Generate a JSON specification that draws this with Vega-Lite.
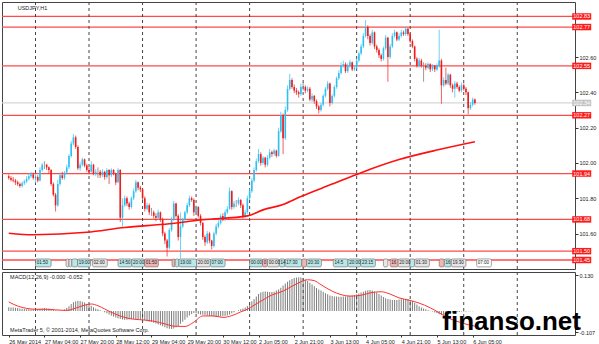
{
"$schema": "https://vega.github.io/schema/vega-lite/v6.json",
"background": "white",
"padding": {"left": 0, "top": 1, "right": 0, "bottom": 0},
"spacing": 1,
"config": {
  "view": {"stroke": "#444", "strokeWidth": 1},
  "axis": {"labelFont": "Liberation Sans", "labelFontSize": 5.5, "labelColor": "#222", "tickColor": "#333", "domain": false, "grid": false},
  "text": {"font": "Liberation Sans"}
},
"datasets": {
  "candles": [
{"i":0,"o":101.925,"h":101.935,"l":101.905,"c":101.915,"m":0.013},
{"i":1,"o":101.915,"h":101.925,"l":101.895,"c":101.905,"m":0.012},
{"i":2,"o":101.905,"h":101.92,"l":101.89,"c":101.9,"m":0.012},
{"i":3,"o":101.9,"h":101.91,"l":101.875,"c":101.89,"m":0.011},
{"i":4,"o":101.89,"h":101.9,"l":101.87,"c":101.88,"m":0.010},
{"i":5,"o":101.88,"h":101.89,"l":101.86,"c":101.87,"m":0.009},
{"i":6,"o":101.87,"h":101.895,"l":101.86,"c":101.885,"m":0.008},
{"i":7,"o":101.885,"h":101.905,"l":101.875,"c":101.895,"m":0.007},
{"i":8,"o":101.895,"h":101.925,"l":101.885,"c":101.91,"m":0.006},
{"i":9,"o":101.91,"h":101.94,"l":101.9,"c":101.925,"m":0.006},
{"i":10,"o":101.925,"h":101.95,"l":101.915,"c":101.935,"m":0.005},
{"i":11,"o":101.935,"h":101.945,"l":101.905,"c":101.915,"m":0.005},
{"i":12,"o":101.915,"h":101.935,"l":101.885,"c":101.92,"m":0.006},
{"i":13,"o":101.92,"h":101.93,"l":101.89,"c":101.9,"m":0.007},
{"i":14,"o":101.9,"h":101.975,"l":101.895,"c":101.96,"m":0.008},
{"i":15,"o":101.96,"h":102.0,"l":101.95,"c":101.99,"m":0.009},
{"i":16,"o":101.99,"h":102.01,"l":101.965,"c":101.99,"m":0.010},
{"i":17,"o":101.99,"h":101.995,"l":101.96,"c":101.975,"m":0.009},
{"i":18,"o":101.975,"h":101.98,"l":101.94,"c":101.96,"m":0.008},
{"i":19,"o":101.96,"h":101.965,"l":101.87,"c":101.88,"m":0.006},
{"i":20,"o":101.88,"h":101.89,"l":101.81,"c":101.82,"m":0.004},
{"i":21,"o":101.82,"h":101.83,"l":101.725,"c":101.76,"m":0.002},
{"i":22,"o":101.76,"h":101.905,"l":101.75,"c":101.88,"m":0.001},
{"i":23,"o":101.88,"h":101.945,"l":101.87,"c":101.93,"m":0.0},
{"i":24,"o":101.93,"h":101.95,"l":101.905,"c":101.915,"m":0.002},
{"i":25,"o":101.915,"h":101.955,"l":101.905,"c":101.945,"m":0.005},
{"i":26,"o":101.945,"h":101.99,"l":101.935,"c":101.975,"m":0.010},
{"i":27,"o":101.975,"h":102.05,"l":101.965,"c":102.04,"m":0.016},
{"i":28,"o":102.04,"h":102.125,"l":102.03,"c":102.11,"m":0.024},
{"i":29,"o":102.11,"h":102.165,"l":102.1,"c":102.145,"m":0.030},
{"i":30,"o":102.145,"h":102.155,"l":102.08,"c":102.09,"m":0.033},
{"i":31,"o":102.09,"h":102.1,"l":101.96,"c":101.97,"m":0.035},
{"i":32,"o":101.97,"h":102.005,"l":101.955,"c":101.99,"m":0.034},
{"i":33,"o":101.99,"h":102.03,"l":101.98,"c":102.02,"m":0.032},
{"i":34,"o":102.02,"h":102.025,"l":101.975,"c":101.985,"m":0.029},
{"i":35,"o":101.985,"h":101.995,"l":101.95,"c":101.96,"m":0.025},
{"i":36,"o":101.96,"h":101.975,"l":101.935,"c":101.95,"m":0.021},
{"i":37,"o":101.95,"h":102.01,"l":101.945,"c":101.99,"m":0.017},
{"i":38,"o":101.99,"h":101.995,"l":101.93,"c":101.94,"m":0.013},
{"i":39,"o":101.94,"h":101.965,"l":101.925,"c":101.95,"m":0.009},
{"i":40,"o":101.95,"h":101.975,"l":101.915,"c":101.95,"m":0.006},
{"i":41,"o":101.95,"h":101.96,"l":101.915,"c":101.93,"m":0.003},
{"i":42,"o":101.93,"h":101.965,"l":101.92,"c":101.95,"m":0.0},
{"i":43,"o":101.95,"h":101.955,"l":101.905,"c":101.92,"m":-0.004},
{"i":44,"o":101.92,"h":101.97,"l":101.91,"c":101.96,"m":-0.008},
{"i":45,"o":101.96,"h":101.965,"l":101.88,"c":101.93,"m":-0.012},
{"i":46,"o":101.93,"h":101.97,"l":101.92,"c":101.96,"m":-0.016},
{"i":47,"o":101.96,"h":101.965,"l":101.93,"c":101.94,"m":-0.019},
{"i":48,"o":101.94,"h":101.945,"l":101.875,"c":101.89,"m":-0.022},
{"i":49,"o":101.89,"h":101.97,"l":101.885,"c":101.96,"m":-0.025},
{"i":50,"o":101.96,"h":101.965,"l":101.665,"c":101.69,"m":-0.027},
{"i":51,"o":101.69,"h":101.8,"l":101.64,"c":101.76,"m":-0.029},
{"i":52,"o":101.76,"h":101.815,"l":101.75,"c":101.8,"m":-0.030},
{"i":53,"o":101.8,"h":101.81,"l":101.755,"c":101.77,"m":-0.030},
{"i":54,"o":101.77,"h":101.78,"l":101.735,"c":101.75,"m":-0.029},
{"i":55,"o":101.75,"h":101.81,"l":101.74,"c":101.8,"m":-0.028},
{"i":56,"o":101.8,"h":101.855,"l":101.79,"c":101.84,"m":-0.027},
{"i":57,"o":101.84,"h":101.905,"l":101.83,"c":101.89,"m":-0.027},
{"i":58,"o":101.89,"h":101.895,"l":101.845,"c":101.86,"m":-0.028},
{"i":59,"o":101.86,"h":101.87,"l":101.835,"c":101.85,"m":-0.029},
{"i":60,"o":101.85,"h":101.855,"l":101.79,"c":101.8,"m":-0.030},
{"i":61,"o":101.8,"h":101.81,"l":101.725,"c":101.74,"m":-0.032},
{"i":62,"o":101.74,"h":101.775,"l":101.73,"c":101.76,"m":-0.035},
{"i":63,"o":101.76,"h":101.77,"l":101.705,"c":101.72,"m":-0.037},
{"i":64,"o":101.72,"h":101.745,"l":101.7,"c":101.72,"m":-0.038},
{"i":65,"o":101.72,"h":101.73,"l":101.685,"c":101.7,"m":-0.040},
{"i":66,"o":101.7,"h":101.715,"l":101.67,"c":101.69,"m":-0.043},
{"i":67,"o":101.69,"h":101.735,"l":101.68,"c":101.72,"m":-0.046},
{"i":68,"o":101.72,"h":101.725,"l":101.665,"c":101.68,"m":-0.049},
{"i":69,"o":101.68,"h":101.69,"l":101.585,"c":101.6,"m":-0.052},
{"i":70,"o":101.6,"h":101.61,"l":101.54,"c":101.56,"m":-0.056},
{"i":71,"o":101.56,"h":101.57,"l":101.47,"c":101.52,"m":-0.059},
{"i":72,"o":101.52,"h":101.63,"l":101.51,"c":101.62,"m":-0.061},
{"i":73,"o":101.62,"h":101.695,"l":101.61,"c":101.68,"m":-0.062},
{"i":74,"o":101.68,"h":101.785,"l":101.67,"c":101.77,"m":-0.060},
{"i":75,"o":101.77,"h":101.775,"l":101.69,"c":101.7,"m":-0.056},
{"i":76,"o":101.7,"h":101.71,"l":101.56,"c":101.58,"m":-0.051},
{"i":77,"o":101.58,"h":101.72,"l":101.46,"c":101.64,"m":-0.044},
{"i":78,"o":101.64,"h":101.69,"l":101.63,"c":101.68,"m":-0.037},
{"i":79,"o":101.68,"h":101.73,"l":101.67,"c":101.72,"m":-0.030},
{"i":80,"o":101.72,"h":101.775,"l":101.71,"c":101.76,"m":-0.022},
{"i":81,"o":101.76,"h":101.815,"l":101.75,"c":101.8,"m":-0.015},
{"i":82,"o":101.8,"h":101.81,"l":101.78,"c":101.79,"m":-0.010},
{"i":83,"o":101.79,"h":101.8,"l":101.7,"c":101.72,"m":-0.007},
{"i":84,"o":101.72,"h":101.76,"l":101.71,"c":101.75,"m":-0.008},
{"i":85,"o":101.75,"h":101.755,"l":101.69,"c":101.7,"m":-0.010},
{"i":86,"o":101.7,"h":101.71,"l":101.645,"c":101.66,"m":-0.012},
{"i":87,"o":101.66,"h":101.665,"l":101.565,"c":101.58,"m":-0.013},
{"i":88,"o":101.58,"h":101.59,"l":101.53,"c":101.55,"m":-0.014},
{"i":89,"o":101.55,"h":101.615,"l":101.54,"c":101.6,"m":-0.015},
{"i":90,"o":101.6,"h":101.61,"l":101.545,"c":101.56,"m":-0.016},
{"i":91,"o":101.56,"h":101.565,"l":101.51,"c":101.53,"m":-0.017},
{"i":92,"o":101.53,"h":101.61,"l":101.52,"c":101.6,"m":-0.019},
{"i":93,"o":101.6,"h":101.655,"l":101.59,"c":101.64,"m":-0.020},
{"i":94,"o":101.64,"h":101.675,"l":101.63,"c":101.66,"m":-0.020},
{"i":95,"o":101.66,"h":101.71,"l":101.65,"c":101.7,"m":-0.019},
{"i":96,"o":101.7,"h":101.715,"l":101.67,"c":101.68,"m":-0.018},
{"i":97,"o":101.68,"h":101.735,"l":101.67,"c":101.72,"m":-0.017},
{"i":98,"o":101.72,"h":101.755,"l":101.71,"c":101.74,"m":-0.015},
{"i":99,"o":101.74,"h":101.86,"l":101.735,"c":101.84,"m":-0.012},
{"i":100,"o":101.84,"h":101.845,"l":101.735,"c":101.75,"m":-0.008},
{"i":101,"o":101.75,"h":101.785,"l":101.74,"c":101.77,"m":-0.004},
{"i":102,"o":101.77,"h":101.79,"l":101.75,"c":101.77,"m":0.0},
{"i":103,"o":101.77,"h":101.805,"l":101.76,"c":101.79,"m":0.003},
{"i":104,"o":101.79,"h":101.795,"l":101.745,"c":101.76,"m":0.006},
{"i":105,"o":101.76,"h":101.77,"l":101.685,"c":101.7,"m":0.009},
{"i":106,"o":101.7,"h":101.735,"l":101.69,"c":101.72,"m":0.012},
{"i":107,"o":101.72,"h":101.815,"l":101.71,"c":101.8,"m":0.017},
{"i":108,"o":101.8,"h":101.855,"l":101.79,"c":101.84,"m":0.025},
{"i":109,"o":101.84,"h":101.915,"l":101.83,"c":101.9,"m":0.033},
{"i":110,"o":101.9,"h":101.975,"l":101.89,"c":101.96,"m":0.041},
{"i":111,"o":101.96,"h":102.025,"l":101.95,"c":102.01,"m":0.050},
{"i":112,"o":102.01,"h":102.08,"l":102.0,"c":102.05,"m":0.058},
{"i":113,"o":102.05,"h":102.06,"l":101.985,"c":102.0,"m":0.063},
{"i":114,"o":102.0,"h":102.04,"l":101.99,"c":102.03,"m":0.066},
{"i":115,"o":102.03,"h":102.035,"l":101.975,"c":101.99,"m":0.067},
{"i":116,"o":101.99,"h":102.045,"l":101.98,"c":102.03,"m":0.066},
{"i":117,"o":102.03,"h":102.08,"l":102.02,"c":102.06,"m":0.065},
{"i":118,"o":102.06,"h":102.07,"l":102.035,"c":102.05,"m":0.065},
{"i":119,"o":102.05,"h":102.08,"l":102.04,"c":102.07,"m":0.066},
{"i":120,"o":102.07,"h":102.075,"l":102.03,"c":102.04,"m":0.070},
{"i":121,"o":102.04,"h":102.2,"l":102.035,"c":102.18,"m":0.074},
{"i":122,"o":102.18,"h":102.29,"l":102.17,"c":102.27,"m":0.080},
{"i":123,"o":102.27,"h":102.28,"l":102.05,"c":102.14,"m":0.087},
{"i":124,"o":102.14,"h":102.32,"l":102.13,"c":102.3,"m":0.094},
{"i":125,"o":102.3,"h":102.44,"l":102.29,"c":102.42,"m":0.100},
{"i":126,"o":102.42,"h":102.505,"l":102.41,"c":102.47,"m":0.105},
{"i":127,"o":102.47,"h":102.48,"l":102.42,"c":102.43,"m":0.110},
{"i":128,"o":102.43,"h":102.445,"l":102.395,"c":102.41,"m":0.113},
{"i":129,"o":102.41,"h":102.425,"l":102.385,"c":102.4,"m":0.115},
{"i":130,"o":102.4,"h":102.41,"l":102.37,"c":102.39,"m":0.116},
{"i":131,"o":102.39,"h":102.45,"l":102.38,"c":102.43,"m":0.115},
{"i":132,"o":102.43,"h":102.455,"l":102.41,"c":102.43,"m":0.112},
{"i":133,"o":102.43,"h":102.44,"l":102.395,"c":102.41,"m":0.108},
{"i":134,"o":102.41,"h":102.435,"l":102.4,"c":102.42,"m":0.103},
{"i":135,"o":102.42,"h":102.43,"l":102.35,"c":102.36,"m":0.097},
{"i":136,"o":102.36,"h":102.395,"l":102.345,"c":102.38,"m":0.091},
{"i":137,"o":102.38,"h":102.385,"l":102.335,"c":102.35,"m":0.085},
{"i":138,"o":102.35,"h":102.36,"l":102.305,"c":102.32,"m":0.079},
{"i":139,"o":102.32,"h":102.33,"l":102.28,"c":102.3,"m":0.074},
{"i":140,"o":102.3,"h":102.34,"l":102.29,"c":102.33,"m":0.070},
{"i":141,"o":102.33,"h":102.39,"l":102.32,"c":102.38,"m":0.066},
{"i":142,"o":102.38,"h":102.43,"l":102.37,"c":102.42,"m":0.061},
{"i":143,"o":102.42,"h":102.465,"l":102.41,"c":102.45,"m":0.057},
{"i":144,"o":102.45,"h":102.455,"l":102.32,"c":102.34,"m":0.053},
{"i":145,"o":102.34,"h":102.39,"l":102.33,"c":102.38,"m":0.051},
{"i":146,"o":102.38,"h":102.44,"l":102.37,"c":102.43,"m":0.050},
{"i":147,"o":102.43,"h":102.49,"l":102.42,"c":102.48,"m":0.050},
{"i":148,"o":102.48,"h":102.525,"l":102.47,"c":102.51,"m":0.049},
{"i":149,"o":102.51,"h":102.57,"l":102.5,"c":102.55,"m":0.049},
{"i":150,"o":102.55,"h":102.58,"l":102.54,"c":102.56,"m":0.050},
{"i":151,"o":102.56,"h":102.57,"l":102.51,"c":102.52,"m":0.050},
{"i":152,"o":102.52,"h":102.565,"l":102.51,"c":102.55,"m":0.051},
{"i":153,"o":102.55,"h":102.585,"l":102.54,"c":102.57,"m":0.052},
{"i":154,"o":102.57,"h":102.575,"l":102.52,"c":102.53,"m":0.053},
{"i":155,"o":102.53,"h":102.555,"l":102.52,"c":102.54,"m":0.055},
{"i":156,"o":102.54,"h":102.59,"l":102.53,"c":102.58,"m":0.057},
{"i":157,"o":102.58,"h":102.63,"l":102.57,"c":102.62,"m":0.060},
{"i":158,"o":102.62,"h":102.675,"l":102.61,"c":102.66,"m":0.063},
{"i":159,"o":102.66,"h":102.735,"l":102.65,"c":102.72,"m":0.066},
{"i":160,"o":102.72,"h":102.81,"l":102.71,"c":102.77,"m":0.069},
{"i":161,"o":102.77,"h":102.78,"l":102.7,"c":102.72,"m":0.071},
{"i":162,"o":102.72,"h":102.73,"l":102.665,"c":102.68,"m":0.072},
{"i":163,"o":102.68,"h":102.755,"l":102.67,"c":102.74,"m":0.070},
{"i":164,"o":102.74,"h":102.745,"l":102.645,"c":102.66,"m":0.067},
{"i":165,"o":102.66,"h":102.67,"l":102.625,"c":102.64,"m":0.063},
{"i":166,"o":102.64,"h":102.65,"l":102.595,"c":102.61,"m":0.058},
{"i":167,"o":102.61,"h":102.62,"l":102.575,"c":102.59,"m":0.053},
{"i":168,"o":102.59,"h":102.66,"l":102.58,"c":102.65,"m":0.048},
{"i":169,"o":102.65,"h":102.725,"l":102.64,"c":102.71,"m":0.044},
{"i":170,"o":102.71,"h":102.715,"l":102.46,"c":102.6,"m":0.041},
{"i":171,"o":102.6,"h":102.675,"l":102.59,"c":102.66,"m":0.039},
{"i":172,"o":102.66,"h":102.735,"l":102.65,"c":102.72,"m":0.038},
{"i":173,"o":102.72,"h":102.755,"l":102.71,"c":102.74,"m":0.038},
{"i":174,"o":102.74,"h":102.745,"l":102.69,"c":102.7,"m":0.038},
{"i":175,"o":102.7,"h":102.735,"l":102.69,"c":102.72,"m":0.039},
{"i":176,"o":102.72,"h":102.755,"l":102.71,"c":102.74,"m":0.040},
{"i":177,"o":102.74,"h":102.75,"l":102.72,"c":102.73,"m":0.041},
{"i":178,"o":102.73,"h":102.775,"l":102.72,"c":102.76,"m":0.042},
{"i":179,"o":102.76,"h":102.765,"l":102.72,"c":102.73,"m":0.041},
{"i":180,"o":102.73,"h":102.74,"l":102.68,"c":102.69,"m":0.038},
{"i":181,"o":102.69,"h":102.7,"l":102.65,"c":102.66,"m":0.034},
{"i":182,"o":102.66,"h":102.665,"l":102.575,"c":102.59,"m":0.028},
{"i":183,"o":102.59,"h":102.6,"l":102.54,"c":102.55,"m":0.022},
{"i":184,"o":102.55,"h":102.595,"l":102.54,"c":102.58,"m":0.016},
{"i":185,"o":102.58,"h":102.59,"l":102.54,"c":102.55,"m":0.012},
{"i":186,"o":102.55,"h":102.57,"l":102.46,"c":102.55,"m":0.009},
{"i":187,"o":102.55,"h":102.565,"l":102.525,"c":102.54,"m":0.006},
{"i":188,"o":102.54,"h":102.57,"l":102.53,"c":102.56,"m":0.003},
{"i":189,"o":102.56,"h":102.565,"l":102.515,"c":102.53,"m":0.001},
{"i":190,"o":102.53,"h":102.56,"l":102.52,"c":102.55,"m":-0.002},
{"i":191,"o":102.55,"h":102.555,"l":102.515,"c":102.53,"m":-0.005},
{"i":192,"o":102.53,"h":102.565,"l":102.52,"c":102.55,"m":-0.008},
{"i":193,"o":102.55,"h":102.755,"l":102.54,"c":102.58,"m":-0.011},
{"i":194,"o":102.58,"h":102.59,"l":102.335,"c":102.44,"m":-0.014},
{"i":195,"o":102.44,"h":102.485,"l":102.43,"c":102.47,"m":-0.015},
{"i":196,"o":102.47,"h":102.54,"l":102.44,"c":102.45,"m":-0.014},
{"i":197,"o":102.45,"h":102.51,"l":102.44,"c":102.5,"m":-0.012},
{"i":198,"o":102.5,"h":102.505,"l":102.425,"c":102.44,"m":-0.009},
{"i":199,"o":102.44,"h":102.45,"l":102.4,"c":102.42,"m":-0.006},
{"i":200,"o":102.42,"h":102.465,"l":102.37,"c":102.45,"m":-0.004},
{"i":201,"o":102.45,"h":102.46,"l":102.42,"c":102.43,"m":-0.003},
{"i":202,"o":102.43,"h":102.44,"l":102.4,"c":102.41,"m":-0.003},
{"i":203,"o":102.41,"h":102.455,"l":102.4,"c":102.44,"m":-0.002},
{"i":204,"o":102.44,"h":102.45,"l":102.41,"c":102.42,"m":-0.002},
{"i":205,"o":102.42,"h":102.43,"l":102.385,"c":102.4,"m":-0.002},
{"i":206,"o":102.4,"h":102.405,"l":102.275,"c":102.31,"m":-0.001},
{"i":207,"o":102.31,"h":102.345,"l":102.3,"c":102.33,"m":-0.001},
{"i":208,"o":102.33,"h":102.37,"l":102.32,"c":102.36,"m":-0.001},
{"i":209,"o":102.36,"h":102.365,"l":102.33,"c":102.34,"m":0.0}
  ],
  "ma": [
{"i":0,"p":101.602},{"i":11,"p":101.593},{"i":35,"p":101.607},{"i":52,"p":101.634},{"i":72,"p":101.655},{"i":87,"p":101.678},{"i":107,"p":101.70},{"i":114,"p":101.734},{"i":123,"p":101.765},{"i":131,"p":101.81},{"i":145,"p":101.88},{"i":158,"p":101.945},{"i":175,"p":102.019},{"i":193,"p":102.076},{"i":209,"p":102.12}
  ],
  "sig": [
{"i":0,"s":0.031},{"i":4,"s":0.017},{"i":8,"s":0.009},{"i":12,"s":0.006},{"i":17,"s":0.006},{"i":21,"s":0.004},{"i":26,"s":0.002},{"i":30,"s":0.010},{"i":34,"s":0.020},{"i":37,"s":0.024},{"i":40,"s":0.018},{"i":43,"s":0.007},{"i":47,"s":-0.008},{"i":52,"s":-0.022},{"i":56,"s":-0.028},{"i":61,"s":-0.031},{"i":65,"s":-0.035},{"i":70,"s":-0.044},{"i":74,"s":-0.052},{"i":79,"s":-0.053},{"i":83,"s":-0.038},{"i":87,"s":-0.017},{"i":92,"s":-0.017},{"i":96,"s":-0.022},{"i":100,"s":-0.016},{"i":104,"s":-0.003},{"i":107,"s":0.006},{"i":110,"s":0.020},{"i":114,"s":0.038},{"i":118,"s":0.055},{"i":123,"s":0.068},{"i":127,"s":0.085},{"i":131,"s":0.100},{"i":134,"s":0.107},{"i":137,"s":0.104},{"i":140,"s":0.090},{"i":145,"s":0.068},{"i":149,"s":0.056},{"i":153,"s":0.051},{"i":158,"s":0.054},{"i":162,"s":0.062},{"i":167,"s":0.066},{"i":171,"s":0.058},{"i":175,"s":0.045},{"i":180,"s":0.036},{"i":184,"s":0.027},{"i":189,"s":0.011},{"i":193,"s":-0.006},{"i":197,"s":-0.024},{"i":202,"s":-0.038},{"i":206,"s":-0.047},{"i":209,"s":-0.052}
  ],
  "levels": [
{"p":102.83,"k":"r"},{"p":102.77,"k":"r"},{"p":102.55,"k":"r"},{"p":102.34,"k":"g"},{"p":102.27,"k":"r"},{"p":101.94,"k":"r"},{"p":101.68,"k":"r"},{"p":101.50,"k":"r"},{"p":101.45,"k":"r"}
  ],
  "seps": [{"i":12},{"i":36},{"i":60},{"i":84},{"i":108},{"i":132},{"i":156},{"i":180},{"i":204},{"i":228}],
  "events": [
{"a":12,"b":19,"t":"01:50","k":"teal"},
{"a":25.7,"b":27,"t":"","k":"grey"},
{"a":27,"b":28.3,"t":"","k":"grey"},
{"a":28.3,"b":30.9,"t":"","k":"teal"},
{"a":30.9,"b":36.7,"t":"19:00","k":"teal"},
{"a":37.5,"b":44.2,"t":"02:00","k":"grey"},
{"a":49,"b":55.2,"t":"14:50","k":"teal"},
{"a":55.2,"b":60.9,"t":"20:00","k":"teal"},
{"a":60.9,"b":67.1,"t":"01:50","k":"pink"},
{"a":73.2,"b":74.6,"t":"","k":"pink"},
{"a":74.6,"b":76.3,"t":"","k":"teal"},
{"a":76.3,"b":84.2,"t":"19:00","k":"teal"},
{"a":84.2,"b":90.4,"t":"20:00","k":"grey"},
{"a":90.4,"b":97,"t":"07:00","k":"teal"},
{"a":108,"b":113.8,"t":"00:00","k":"teal"},
{"a":113.8,"b":116,"t":"0","k":"pink"},
{"a":116,"b":121.3,"t":"00:00","k":"grey"},
{"a":121.3,"b":123.9,"t":"14","k":"teal"},
{"a":123.9,"b":131.4,"t":"17:30","k":"teal"},
{"a":131.4,"b":133.6,"t":"","k":"pink"},
{"a":133.6,"b":140.2,"t":"20:30","k":"teal"},
{"a":145.5,"b":152.1,"t":"14:5","k":"teal"},
{"a":152.1,"b":157.8,"t":"20:00","k":"teal"},
{"a":157.8,"b":164.4,"t":"23:15","k":"teal"},
{"a":168,"b":170,"t":"","k":"grey"},
{"a":171,"b":174.6,"t":"16","k":"pink"},
{"a":174.6,"b":179.8,"t":"20:00","k":"grey"},
{"a":179.8,"b":182,"t":"","k":"teal"},
{"a":182,"b":188.6,"t":"01:30","k":"grey"},
{"a":193,"b":195.3,"t":"","k":"pink"},
{"a":195.3,"b":198.4,"t":"16","k":"teal"},
{"a":198.4,"b":205,"t":"19:30","k":"grey"},
{"a":209.8,"b":216.4,"t":"07:00","k":"white"}
  ]
},
"vconcat": [
{
  "width": 573, "height": 267,
  "layer": [
    {"data": {"name": "levels"}, "mark": {"type": "rule", "strokeWidth": 1.3},
     "encoding": {
       "y": {"field": "p", "type": "quantitative", "title": null, "scale": {"domain": [101.399, 102.912], "nice": false, "zero": false},
             "axis": {"orient": "right", "values": [101.6,101.7,101.8,101.9,102.0,102.1,102.2,102.3,102.4,102.5,102.6,102.7], "format": ".2f", "tickSize": 3, "labelPadding": 1, "title": null}},
       "color": {"condition": {"test": "datum.k == 'g'", "value": "#d6d6d6"}, "value": "#ff4a4a"}
     }},
    {"data": {"name": "seps"}, "mark": {"type": "rule", "strokeDash": [3, 3], "color": "#444", "strokeWidth": 1},
     "encoding": {"x": {"field": "i", "type": "quantitative", "title": null, "scale": {"domain": [-0.78, 251.65], "nice": false, "zero": false}, "axis": null}}},
    {"data": {"name": "candles"}, "mark": {"type": "rule", "strokeWidth": 1, "opacity": 0.75},
     "encoding": {
       "x": {"field": "i", "type": "quantitative", "title": null, "scale": {"domain": [-0.78, 251.65], "nice": false, "zero": false}, "axis": null},
       "y": {"field": "l", "type": "quantitative", "title": null},
       "y2": {"field": "h"},
       "color": {"condition": [{"test": "datum.c > datum.o", "value": "#3cc6f4"}, {"test": "datum.c < datum.o", "value": "#f22a2a"}], "value": "#7a7a7a"}
     }},
    {"data": {"name": "candles"}, "mark": {"type": "bar", "width": 1.6},
     "encoding": {
       "x": {"field": "i", "type": "quantitative", "title": null, "scale": {"domain": [-0.78, 251.65], "nice": false, "zero": false}, "axis": null},
       "y": {"field": "o", "type": "quantitative", "title": null},
       "y2": {"field": "c"},
       "color": {"condition": [{"test": "datum.c > datum.o", "value": "#2ec0f2"}, {"test": "datum.c < datum.o", "value": "#ee1c1c"}], "value": "#7a7a7a"}
     }},
    {"data": {"name": "ma"}, "mark": {"type": "line", "color": "#ff1010", "strokeWidth": 1.6, "interpolate": "monotone"},
     "encoding": {
       "x": {"field": "i", "type": "quantitative", "title": null, "scale": {"domain": [-0.78, 251.65], "nice": false, "zero": false}, "axis": null},
       "y": {"field": "p", "type": "quantitative", "title": null}
     }},
    {"data": {"name": "events"}, "mark": {"type": "rect", "stroke": "#666", "strokeWidth": 0.6, "cornerRadius": 1.5},
     "encoding": {
       "x": {"field": "a", "type": "quantitative", "title": null, "scale": {"domain": [-0.78, 251.65], "nice": false, "zero": false}, "axis": null},
       "x2": {"field": "b"},
       "y": {"datum": 101.456, "type": "quantitative", "title": null},
       "y2": {"datum": 101.411},
       "fill": {"field": "k", "type": "nominal", "legend": null, "scale": {"domain": ["teal", "pink", "grey", "white"], "range": ["#b9e8ea", "#f3b4b4", "#e6e6e6", "#ffffff"]}}
     }},
    {"data": {"name": "events"}, "mark": {"type": "text", "fontSize": 4.5, "align": "left", "baseline": "middle", "dx": 1.2, "color": "#222"},
     "encoding": {
       "x": {"field": "a", "type": "quantitative", "title": null, "scale": {"domain": [-0.78, 251.65], "nice": false, "zero": false}, "axis": null},
       "y": {"datum": 101.433, "type": "quantitative", "title": null},
       "text": {"field": "t"}
     }},
    {"data": {"name": "levels"}, "mark": {"type": "point", "filled": true, "opacity": 1, "strokeWidth": 0, "size": 361, "shape": "M-1,-0.34H1V0.34H-1Z"},
     "encoding": {
       "x": {"datum": 256.9, "type": "quantitative", "title": null, "scale": {"domain": [-0.78, 251.65], "nice": false, "zero": false}, "axis": null},
       "y": {"field": "p", "type": "quantitative", "title": null},
       "color": {"condition": {"test": "datum.k == 'g'", "value": "#c4c4c4"}, "value": "#ff1a1a"}
     }},
    {"data": {"name": "levels"}, "mark": {"type": "text", "fontSize": 5.5, "color": "white", "align": "center", "baseline": "middle"},
     "encoding": {
       "x": {"datum": 256.9, "type": "quantitative", "title": null, "scale": {"domain": [-0.78, 251.65], "nice": false, "zero": false}, "axis": null},
       "y": {"field": "p", "type": "quantitative", "title": null},
       "text": {"field": "p", "type": "quantitative", "format": ".2f"}
     }},
    {"data": {"values": [{"t": "USDJPY,H1"}]}, "mark": {"type": "text", "fontSize": 5.5, "color": "#222", "align": "left", "baseline": "middle"},
     "encoding": {
       "x": {"datum": 4, "type": "quantitative", "title": null, "scale": {"domain": [-0.78, 251.65], "nice": false, "zero": false}, "axis": null},
       "y": {"datum": 102.88, "type": "quantitative", "title": null},
       "text": {"field": "t"}
     }}
  ]
},
{
  "width": 573, "height": 63,
  "layer": [
    {"data": {"name": "candles"}, "mark": {"type": "bar", "width": 1, "color": "#7d7d7d"},
     "encoding": {
       "x": {"field": "i", "type": "quantitative", "title": null, "scale": {"domain": [-0.78, 251.65], "nice": false, "zero": false},
             "axis": {"values": [0,16,32,48,64,80,96,112,128,144,160,176,192,208], "labelAlign": "left", "labelBaseline": "top", "labelPadding": 2, "tickSize": 2, "labelFlush": false, "labelOverlap": false, "title": null,
                      "labelExpr": "['26 May 2014','27 May 04:00','27 May 20:00','28 May 12:00','29 May 04:00','29 May 20:00','30 May 12:00','2 Jun 05:00','2 Jun 21:00','3 Jun 13:00','4 Jun 05:00','4 Jun 21:00','5 Jun 13:00','6 Jun 05:00'][round(datum.value/16)]"}},
       "y": {"field": "m", "type": "quantitative", "title": null, "scale": {"domain": [-0.0822, 0.1336], "nice": false, "zero": false},
             "axis": {"orient": "right", "values": [0.123, 0, -0.072], "tickSize": 3, "labelPadding": 1, "title": null,
                      "labelExpr": "datum.value > 0.05 ? '0.130' : (datum.value < -0.05 ? '-0.107' : '0.000')"}},
       "y2": {"datum": 0}
     }},
    {"data": {"name": "seps"}, "mark": {"type": "rule", "strokeDash": [3, 3], "color": "#444", "strokeWidth": 1},
     "encoding": {"x": {"field": "i", "type": "quantitative", "title": null}}},
    {"data": {"name": "sig"}, "mark": {"type": "line", "color": "#ff3030", "strokeWidth": 1, "interpolate": "monotone"},
     "encoding": {
       "x": {"field": "i", "type": "quantitative", "title": null},
       "y": {"field": "s", "type": "quantitative", "title": null}
     }},
    {"data": {"values": [{"t": "MACD(12,26,9) -0.000 -0.052"}]}, "mark": {"type": "text", "fontSize": 5.5, "color": "#222", "align": "left", "baseline": "middle"},
     "encoding": {"x": {"datum": 0.6, "type": "quantitative"}, "y": {"datum": 0.117, "type": "quantitative"}, "text": {"field": "t"}}},
    {"data": {"values": [{"t": "MetaTrader 5, © 2001-2014, MetaQuotes Software Corp."}]}, "mark": {"type": "text", "fontSize": 5.5, "color": "#222", "align": "left", "baseline": "middle"},
     "encoding": {"x": {"datum": 0.6, "type": "quantitative"}, "y": {"datum": -0.066, "type": "quantitative"}, "text": {"field": "t"}}},
    {"data": {"values": [{"t": "finanso.net"}]}, "mark": {"type": "text", "fontSize": 26, "fontWeight": "bold", "color": "#000", "align": "left", "baseline": "alphabetic"},
     "encoding": {"x": {"datum": 194.4, "type": "quantitative"}, "y": {"datum": -0.065, "type": "quantitative"}, "text": {"field": "t"}}}
  ]
}
]
}
